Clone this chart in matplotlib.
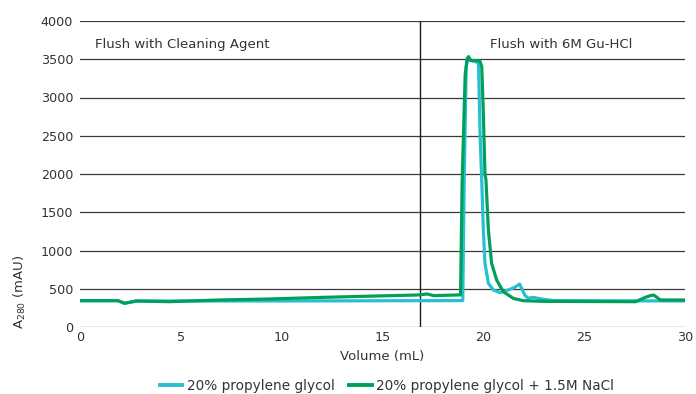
import matplotlib
matplotlib.use("Agg")
import matplotlib.pyplot as plt

# ---- data ----
pg_x = [0, 1.9, 2.2, 2.8, 9.5, 18.98, 19.05, 19.15, 19.2, 19.3, 19.6, 19.76, 19.84, 19.92,
        20.0, 20.08, 20.25, 20.5, 20.82, 21.23, 21.56, 21.8, 22.05, 22.22, 22.46, 22.95,
        23.5, 30]
pg_y = [344, 344, 310, 340, 340, 345, 1900, 3400, 3514, 3490, 3470, 3450, 2500, 1923,
        1269, 833, 571, 484, 449, 484, 519, 562, 419, 375, 388, 362,
        345, 340]

nacl_x = [0, 1.88, 2.21, 2.79, 4.43, 6.9, 9.35, 12.13, 15.41, 16.72, 17.0, 17.2, 17.55,
          18.87, 18.95, 19.1, 19.2, 19.27, 19.35, 19.43, 19.82, 19.92, 20.0, 20.08, 20.13,
          20.25, 20.41, 20.66, 20.99, 21.48, 21.97, 23.0, 27.55, 28.04, 28.28, 28.45,
          28.78, 30]
nacl_y = [344, 344, 310, 340, 331, 353, 366, 388, 410, 418, 425, 432, 410,
          420, 1900, 3300, 3500, 3535, 3490, 3483, 3483, 3405, 2800, 2000, 1923,
          1269, 833, 615, 462, 375, 344, 335, 331, 388, 410, 418,
          353, 353]

series_labels = ["20% propylene glycol", "20% propylene glycol + 1.5M NaCl"]
series_colors = ["#27BFD2", "#00A05A"]
yticks = [0, 500, 1000, 1500, 2000, 2500, 3000, 3500, 4000]
xticks = [0, 5, 10, 15, 20, 25, 30]
divider_x = 16.85
region_labels = ["Flush with Cleaning Agent", "Flush with 6M Gu-HCl"]

TXT = "#333333"
FS = 9.5

# ---- figure ----
fig = plt.figure(figsize=(6.96, 3.94), dpi=100)
ax = fig.add_axes([80/696, 1 - 327/394, 605/696, 306/394])

ax.plot(pg_x, pg_y, color=series_colors[0], lw=2.3, label=series_labels[0],
        solid_joinstyle="round", zorder=3)
ax.plot(nacl_x, nacl_y, color=series_colors[1], lw=2.3, label=series_labels[1],
        solid_joinstyle="round", zorder=4)

ax.set_xlim(0, 30)
ax.set_ylim(0, 4000)
ax.set_xticks(xticks)
ax.set_yticks(yticks)
ax.grid(axis="y", color="#3a3a3a", lw=0.9)
ax.set_axisbelow(True)
for s in ax.spines.values():
    s.set_visible(False)
ax.tick_params(axis="both", length=0, labelsize=9.2, colors=TXT, pad=5)
ax.tick_params(axis="x", pad=3)

ax.axvline(divider_x, color="#1a1a1a", lw=1, zorder=2)

ax.text(0.025, 0.923, region_labels[0], transform=ax.transAxes, fontsize=FS,
        color=TXT, ha="left", va="center")
ax.text(0.796, 0.923, region_labels[1], transform=ax.transAxes, fontsize=FS,
        color=TXT, ha="center", va="center")

ax.set_xlabel("Volume (mL)", fontsize=FS, color=TXT, labelpad=4)
ax.set_ylabel(r"A$_{280}$ (mAU)", fontsize=FS, color=TXT)
ax.yaxis.set_label_coords(-0.086, 0.115)

leg = ax.legend(loc="center", bbox_to_anchor=(387/696, 1 - 386/394),
                bbox_transform=fig.transFigure, ncol=2, frameon=False,
                fontsize=9.8, handlelength=1.65, handletextpad=0.3,
                columnspacing=1.1)
for t in leg.get_texts():
    t.set_color(TXT)
for l in leg.get_lines():
    l.set_linewidth(2.8)

fig.savefig("out.png", dpi=100)
